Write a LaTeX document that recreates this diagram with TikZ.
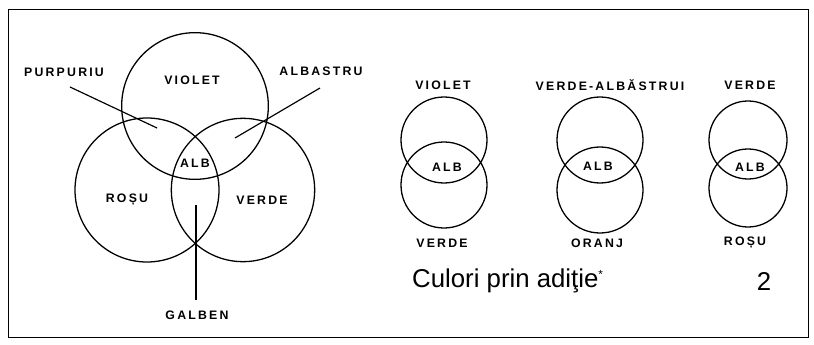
\documentclass[tikz,border=0pt]{standalone}
\usepackage{fontspec}
\setmainfont{Liberation Sans}
\newfontfamily\lblfont[LetterSpace=18]{Liberation Sans Bold}
\usetikzlibrary{positioning}

\begin{document}
\begin{tikzpicture}[
    x=0.03cm, y=-0.03cm,
    ring/.style={circle, draw=black, line width=1.1pt, minimum size=#1, inner sep=0pt},
    lbl/.style={font=\lblfont\fontsize{10.5}{11}\selectfont, inner sep=1pt},
    lead/.style={line width=1pt},
    caption/.style={font=\fontsize{22}{24}\selectfont, inner sep=0pt}
]
\useasboundingbox (0,0) rectangle (814,345);
\draw[line width=0.8pt] (8,9) rectangle (808,337);

% big diagram
\node[ring=4.4cm] (violet) at (195,106) {};
\node[ring=4.32cm] (rosu) at (147,190) {};
\node[ring=4.3cm] (verde) at (243,190) {};

\node[lbl] (tviolet) at (192,80) {VIOLET};
\node[lbl] (trosu) at (127,200) {ROȘU};
\node[lbl] (tverde) at (262,200) {VERDE};
\node[lbl] (talb) at (195,163) {ALB};
\node[lbl] (tpurp) at (64,72) {PURPURIU};
\node[lbl] (talbas) at (321,71) {ALBASTRU};
\node[lbl] (tgalben) at (197,315) {GALBEN};

\coordinate (purpend) at (70,87);
\coordinate (purptip) at (157,128);
\coordinate (albend) at (320,88);
\coordinate (albtip) at (235,138);
\coordinate (galtip) at (196,205);
\coordinate (galend) at (196,300);
\draw[lead] (purpend) -- (purptip);
\draw[lead] (albend) -- (albtip);
\draw[lead] (galtip) -- (galend);

% pairs
\node[ring=2.58cm] (p1top) at (444,140) {};
\node[ring=2.58cm] (p1bot) at (444,185) {};
\node[lbl] (p1up) at (443,85) {VIOLET};
\node[lbl] (p1alb) at (447,167) {ALB};
\node[lbl] (p1down) at (442,243) {VERDE};

\node[ring=2.58cm] (p2top) at (600,140) {};
\node[ring=2.58cm] (p2bot) at (600,190) {};
\node[lbl] (p2up) at (610,85) {VERDE-ALBĂSTRUI};
\node[lbl] (p2alb) at (598,166) {ALB};
\node[lbl] (p2down) at (597,243) {ORANJ};

\node[ring=2.34cm] (p3top) at (748,140) {};
\node[ring=2.34cm] (p3bot) at (748,188) {};
\node[lbl] (p3up) at (750,85) {VERDE};
\node[lbl] (p3alb) at (750,167) {ALB};
\node[lbl] (p3down) at (745,243) {ROȘU};

\node[caption, anchor=west] (titlu) at (412,281) {Culori prin adiţie\textsuperscript{\fontsize{10}{10}\selectfont *}};
\node[caption] (nr) at (764,282) {2};
\end{tikzpicture}
\end{document}
